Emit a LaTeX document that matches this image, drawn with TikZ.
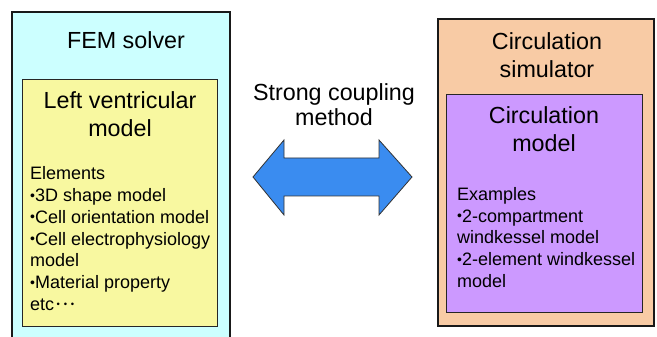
\documentclass[tikz,border=0pt]{standalone}
\usepackage{fontspec}
\setmainfont{Liberation Sans}
\definecolor{femcyan}{HTML}{CCFFFF}
\definecolor{lvyellow}{HTML}{F8F8A0}
\definecolor{circpeach}{HTML}{F8CBA5}
\definecolor{circpurple}{HTML}{CC99FF}
\definecolor{arrowblue}{HTML}{3A8CF0}
\newcommand{\smbul}{\raisebox{1.5pt}{\fontsize{14}{14}\selectfont\textbullet}}
\newcommand{\etcdot}{\raisebox{2.6pt}{\fontsize{9.5}{9.5}\selectfont\textbullet}}
\newcommand{\smdots}{\kern2.5pt\etcdot\kern3.8pt\etcdot\kern3.8pt\etcdot}
\tikzset{
  outerbox/.style={draw=black!90, line width=2.5pt},
  innerbox/.style={draw=black!85, line width=1pt},
  titletext/.style={align=center, font=\fontsize{23.3}{28}\selectfont, inner sep=0pt},
  bodytext/.style={align=left, anchor=north west, font=\fontsize{18}{21.8}\selectfont, inner sep=0pt},
}
\begin{document}
\begin{tikzpicture}[x=1pt,y=1pt]
\useasboundingbox (0,0) rectangle (657,337);
\clip (0,0) rectangle (657,337);
% left outer box
\path[outerbox, fill=femcyan] (12,325) rectangle (230,-10);
\node[titletext] (fem) at (126,297) {FEM solver};
% yellow inner box
\path[innerbox, fill=lvyellow] (22,257) rectangle (217,10);
\node[titletext] (lvtitle) at (120,223) {Left ventricular\\model};
\node[bodytext] (lvbody) at (30,170.5) {Elements\\
\smbul3D shape model\\
\smbul Cell orientation model\\
\smbul Cell electrophysiology\\
model\\
\smbul Material property\\
etc\smdots};
% right outer box
\path[outerbox, fill=circpeach] (438,318) rectangle (654,11);
\node[titletext] (circsim) at (547,281.5) {Circulation\\simulator};
% purple inner box
\path[innerbox, fill=circpurple] (446,242) rectangle (642,24);
\node[titletext] (circmodel) at (544,207.5) {Circulation\\model};
\node[bodytext] (circbody) at (457,150) {Examples\\
\smbul2-compartment\\
windkessel model\\
\smbul2-element windkessel\\
model};
% coupling
\node[titletext, font=\fontsize{23.3}{25.5}\selectfont] (coupling) at (334,232.5) {Strong coupling\\method};
\draw[fill=arrowblue, draw=black!80, line width=0.8pt, line join=miter]
  (253,160) -- (284,197) -- (284,179) -- (379,179) -- (379,197) -- (412,160)
  -- (379,122) -- (379,141) -- (284,141) -- (284,122) -- cycle;
\end{tikzpicture}
\end{document}
